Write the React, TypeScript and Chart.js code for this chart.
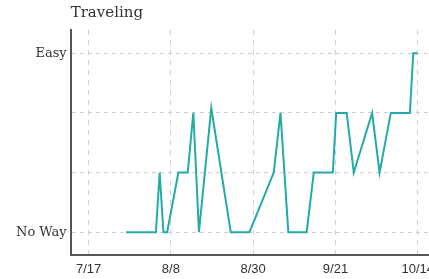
import React, { useEffect, useRef } from "react";
import { Chart, registerables } from "chart.js";

Chart.register(...registerables);

// Days counted from 7/17
const tickDays = [0, 22, 44, 66, 88];
const tickLabels = ["7/17", "8/8", "8/30", "9/21", "10/14"];

const days = [10, 18, 19, 20, 21, 24, 26.5, 28, 29.5, 32.8, 38, 43, 49.5, 51.3, 53.4, 58.3, 60.2, 65.3, 66.2, 69, 70.9, 75.8, 77.8, 80.8, 85.9, 86.8, 87.9];
const levels = [0, 0, 1, 0, 0, 1, 1, 2, 0, 2.08, 0, 0, 1, 2, 0, 0, 1, 1, 2, 2, 1, 2, 1, 2, 2, 3, 3];

const levelTicks = [0, 1, 2, 3];
const levelLabels: Record<number, string> = { 0: "No Way", 3: "Easy" };

export default function App() {
  const ref = useRef<HTMLCanvasElement>(null);
  useEffect(() => {
    document.body.style.margin = "0";
    document.body.style.overflow = "hidden";
    const chart = new Chart(ref.current!, {
      type: "line",
      data: {
        datasets: [
          {
            data: days.map((d, i) => ({ x: d, y: levels[i] })),
            borderColor: "#23aba8",
            borderWidth: 2,
            pointRadius: 0,
            tension: 0,
            fill: false,
          },
        ],
      },
      options: {
        animation: false,
        responsive: true,
        maintainAspectRatio: false,
        layout: { padding: { left: 12, right: 0, top: 0, bottom: 0 } },
        plugins: {
          legend: { display: false },
          tooltip: { enabled: false },
          title: {
            display: true,
            text: "Traveling",
            align: "start",
            fullSize: false,
            color: "#333",
            font: { family: "DejaVu Serif", size: 15, weight: "normal" },
            padding: { top: 4, bottom: 8 },
          },
        },
        scales: {
          x: {
            type: "linear",
            min: -4.8,
            max: 99.3,
            afterBuildTicks: (s: any) => {
              s.ticks = tickDays.map((v) => ({ value: v }));
            },
            ticks: {
              autoSkip: false,
              maxRotation: 0,
              color: "#333",
              font: { family: "Liberation Sans", size: 13 },
              padding: 6,
              callback: (v: any) => {
                const i = tickDays.indexOf(Number(v));
                return i >= 0 ? tickLabels[i] : "";
              },
            },
            grid: {
              color: "#cfcfcf",
              lineWidth: 1,
              drawTicks: false,
            },
            border: { display: true, color: "#555", width: 2, dash: [5, 5] },
          },
          y: {
            type: "linear",
            min: -0.39,
            max: 3.39,
            afterBuildTicks: (s: any) => {
              s.ticks = levelTicks.map((v) => ({ value: v }));
            },
            ticks: {
              autoSkip: false,
              color: "#333",
              font: { family: "DejaVu Serif", size: 13 },
              padding: 4,
              callback: (v: any) => levelLabels[Number(v)] ?? "",
            },
            grid: {
              color: "#cfcfcf",
              lineWidth: 1,
              drawTicks: false,
            },
            border: { display: true, color: "#555", width: 2, dash: [4, 4] },
          },
        },
      },
    });
    return () => chart.destroy();
  }, []);
  return (
    <div style={{ position: "fixed", left: 0, top: 0, width: 429, height: 279, overflow: "hidden" }}>
      <div style={{ position: "relative", width: 460, height: 283 }}>
        <canvas ref={ref} />
      </div>
    </div>
  );
}
